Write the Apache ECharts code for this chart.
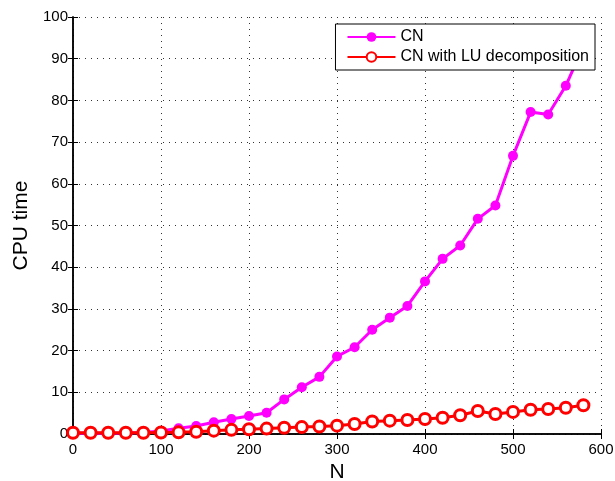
<!DOCTYPE html>
<html>
<head>
<meta charset="utf-8">
<script src="https://cdn.jsdelivr.net/npm/echarts@6/dist/echarts.min.js"></script>
<style>html,body{margin:0;padding:0;background:#fff}#c{width:615px;height:481px}</style>
</head>
<body>
<div id="c"></div>
<script>
var nValues = [0,20,40,60,80,100,120,140,160,180,200,220,240,260,280,300,320,340,360,380,400,420,440,460,480,500,520,540,560,580];
var cnTime = [0.2,0.2,0.2,0.25,0.35,0.7,1.4,1.9,2.8,3.6,4.3,5.1,8.3,11.2,13.7,18.6,20.8,25.0,27.9,30.7,36.6,42.0,45.2,51.6,54.8,66.7,77.2,76.6,83.5,93.0];
var luTime = [0.3,0.3,0.3,0.3,0.3,0.35,0.4,0.55,0.8,1.0,1.15,1.3,1.5,1.65,1.8,2.0,2.4,3.0,3.2,3.35,3.6,3.9,4.5,5.5,4.8,5.3,5.8,6.0,6.3,6.9];
var xTicks = [0,100,200,300,400,500,600];
var yTicks = [0,10,20,30,40,50,60,70,80,90,100];

function pairs(ys){ return nValues.map(function(n,i){ return [n, ys[i]]; }); }

var font = 'Liberation Sans, Arial, Helvetica, sans-serif';
var chart = echarts.init(document.getElementById('c'));
var gridLine = {show:true, lineStyle:{color:'#333', width:1, type:[1,5]}};
chart.setOption({
  animation:false,
  backgroundColor:'#fff',
  grid:{left:73, right:14, top:17, bottom:47, containLabel:false, outerBoundsMode:'none'},
  legend:{
    orient:'vertical', right:20, top:24,
    backgroundColor:'#fff', borderColor:'#000', borderWidth:1,
    padding:[5,6,5,11], itemGap:4, itemWidth:48, itemHeight:12,
    textStyle:{fontFamily:font, fontSize:16, color:'#000'},
    data:['CN','CN with LU decomposition']
  },
  xAxis:[{
    type:'value', min:0, max:600, interval:100,
    name:'N', nameLocation:'middle', nameGap:27,
    nameTextStyle:{fontFamily:font, fontSize:21, color:'#000'},
    axisLine:{show:true, onZero:false, lineStyle:{color:'#000', width:1.5}},
    axisTick:{show:true, inside:true, length:5, lineStyle:{color:'#000'}},
    axisLabel:{fontFamily:font, fontSize:15, color:'#000', margin:8},
    splitLine:gridLine
  },{
    type:'value', min:0, max:600, interval:100, position:'top',
    axisLine:{show:true, lineStyle:{color:'#000', width:1.5}},
    axisTick:{show:true, inside:true, length:5, lineStyle:{color:'#000'}},
    axisLabel:{show:false}, splitLine:{show:false}
  }],
  yAxis:[{
    type:'value', min:0, max:100, interval:10,
    name:'CPU time', nameLocation:'middle', nameGap:39,
    nameTextStyle:{fontFamily:font, fontSize:21, color:'#000'},
    axisLine:{show:true, onZero:false, lineStyle:{color:'#000', width:1.5}},
    axisTick:{show:true, inside:true, length:5, lineStyle:{color:'#000'}},
    axisLabel:{fontFamily:font, fontSize:15, color:'#000', margin:5},
    splitLine:gridLine
  },{
    type:'value', min:0, max:100, interval:10, position:'right',
    axisLine:{show:true, lineStyle:{color:'#000', width:1.5}},
    axisTick:{show:true, inside:true, length:5, lineStyle:{color:'#000'}},
    axisLabel:{show:false}, splitLine:{show:false}
  }],
  series:[{
    name:'CN', type:'line', data:pairs(cnTime), clip:true,
    symbol:'circle', symbolSize:10,
    lineStyle:{color:'#ff00ff', width:3},
    itemStyle:{color:'#ff00ff', borderColor:'#ff00ff', borderWidth:0}
  },{
    name:'CN with LU decomposition', type:'line', data:pairs(luTime), clip:true,
    symbol:'circle', symbolSize:11,
    lineStyle:{color:'#ff0000', width:3},
    itemStyle:{color:'#fff', borderColor:'#ff0000', borderWidth:3}
  }]
});
</script>
</body>
</html>
